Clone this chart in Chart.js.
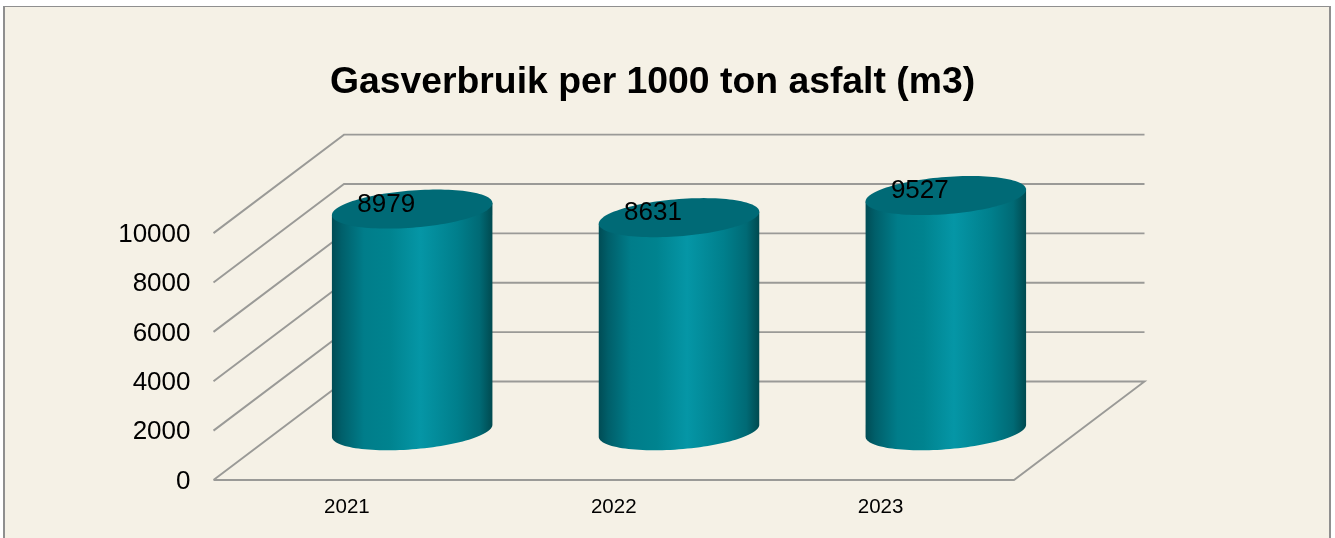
<!DOCTYPE html>
<html><head><meta charset="utf-8">
<style>
html,body{margin:0;padding:0;background:#fff;overflow:hidden;width:1335px;height:538px}
#panel{position:absolute;left:3px;top:6px;width:1324px;height:540px;background:#F5F1E6;border:solid #8f8f8f;border-width:1px 2px 0 2px}
#wrap{position:absolute;left:0;top:0;width:1335px;height:538px}
</style>
<script src="https://cdn.jsdelivr.net/npm/chart.js@4"></script>
</head><body>
<div id="panel"></div>
<div id="wrap"><canvas id="c" width="1335" height="538"></canvas></div>
<script>
const categories = ['2021','2022','2023'];
const gasUse = [8979,8631,9527];
const titleText = 'Gasverbruik per 1000 ton asfalt (m3)';
const yMax = 10000, yStep = 2000;

const DEPTH_X = 130.5, DEPTH_Y = -98.5, BODY_W = 160.5, RY = 18.6, SKEW = 6;
const LINE = '#9a9a97';

const depth3d = {
  id:'depth3d',
  beforeDatasetsDraw(chart){
    const {ctx, chartArea:a, scales:{y}} = chart;
    ctx.save();
    ctx.strokeStyle = LINE; ctx.lineWidth = 1.9;
    y.ticks.forEach(t=>{
      const py = y.getPixelForValue(t.value);
      ctx.beginPath();
      ctx.moveTo(a.left,py);
      ctx.lineTo(a.left+DEPTH_X,py+DEPTH_Y);
      ctx.lineTo(a.right+DEPTH_X,py+DEPTH_Y);
      if(t.value===0){ ctx.lineTo(a.right,py); ctx.lineTo(a.left,py); }
      ctx.stroke();
    });
    ctx.restore();
  },
  beforeDatasetDraw(chart,args){
    const {ctx} = chart;
    const meta = args.meta;
    meta.data.forEach((el,i)=>{
      const cx = el.x + DEPTH_X/2, top = el.y + DEPTH_Y/2, base = el.base + DEPTH_Y/2;
      const rx = BODY_W/2, l = cx-rx, r = cx+rx;
      const g = ctx.createLinearGradient(l,0,r,0);
      g.addColorStop(0,'#004c55'); g.addColorStop(.06,'#005f6a');
      g.addColorStop(.2,'#007d8a'); g.addColorStop(.36,'#00838f');
      g.addColorStop(.55,'#0596a6'); g.addColorStop(.78,'#007f8c');
      g.addColorStop(.92,'#006a75'); g.addColorStop(1,'#004a50');
      const k = SKEW/rx;
      ctx.save();
      ctx.fillStyle = g;
      ctx.beginPath();
      ctx.moveTo(l,top+SKEW);
      ctx.lineTo(r,top-SKEW);
      ctx.lineTo(r,base-SKEW);
      for(let s=0;s<=60;s++){
        const th = Math.PI*s/60, dx = rx*Math.cos(th);
        ctx.lineTo(cx+dx, base+RY*Math.sin(th)-k*dx);
      }
      ctx.closePath(); ctx.fill();
      ctx.fillStyle = '#006a76';
      ctx.beginPath();
      for(let s=0;s<=120;s++){
        const th = 2*Math.PI*s/120, dx = rx*Math.cos(th);
        ctx.lineTo(cx+dx, top+RY*Math.sin(th)-k*dx);
      }
      ctx.closePath(); ctx.fill();
      ctx.fillStyle = '#000';
      ctx.font = '26px "Liberation Sans"';
      ctx.textAlign = 'center'; ctx.textBaseline = 'middle';
      ctx.fillText(String(gasUse[i]), cx-26, top-4.5);
      ctx.restore();
    });
    return false;
  }
};

new Chart(document.getElementById('c'),{
  type:'bar',
  data:{labels:categories,datasets:[{label:'Gasverbruik',data:gasUse,backgroundColor:'#008a99',barPercentage:.6}]},
  plugins:[depth3d],
  options:{
    responsive:false,animation:false,
    layout:{padding:{left:0,right:30,top:0,bottom:0}},
    plugins:{
      legend:{display:false},tooltip:{enabled:false},
      title:{display:true,text:titleText,color:'#000',
        font:{family:'"Liberation Sans"',size:37.35,weight:'bold',lineHeight:1.2},
        padding:{top:60.5,bottom:127.8}}
    },
    scales:{
      x:{grid:{display:false},border:{display:false},
        ticks:{color:'#000',font:{family:'"Liberation Sans"',size:20.5},padding:7,maxRotation:0},
        afterFit(s){s.height=58;}},
      y:{min:0,max:yMax,grid:{display:false},border:{display:false},
        ticks:{stepSize:yStep,color:'#000',font:{family:'"Liberation Sans"',size:26},padding:15,labelOffset:1.5,
          callback(v){return String(v);}},
        afterFit(s){s.width=213.5;}},
      depth:{position:'right',display:true,grid:{display:false},border:{display:false},
        ticks:{display:false},afterFit(s){s.width=291;}}
    }
  }
});
</script>
</body></html>
